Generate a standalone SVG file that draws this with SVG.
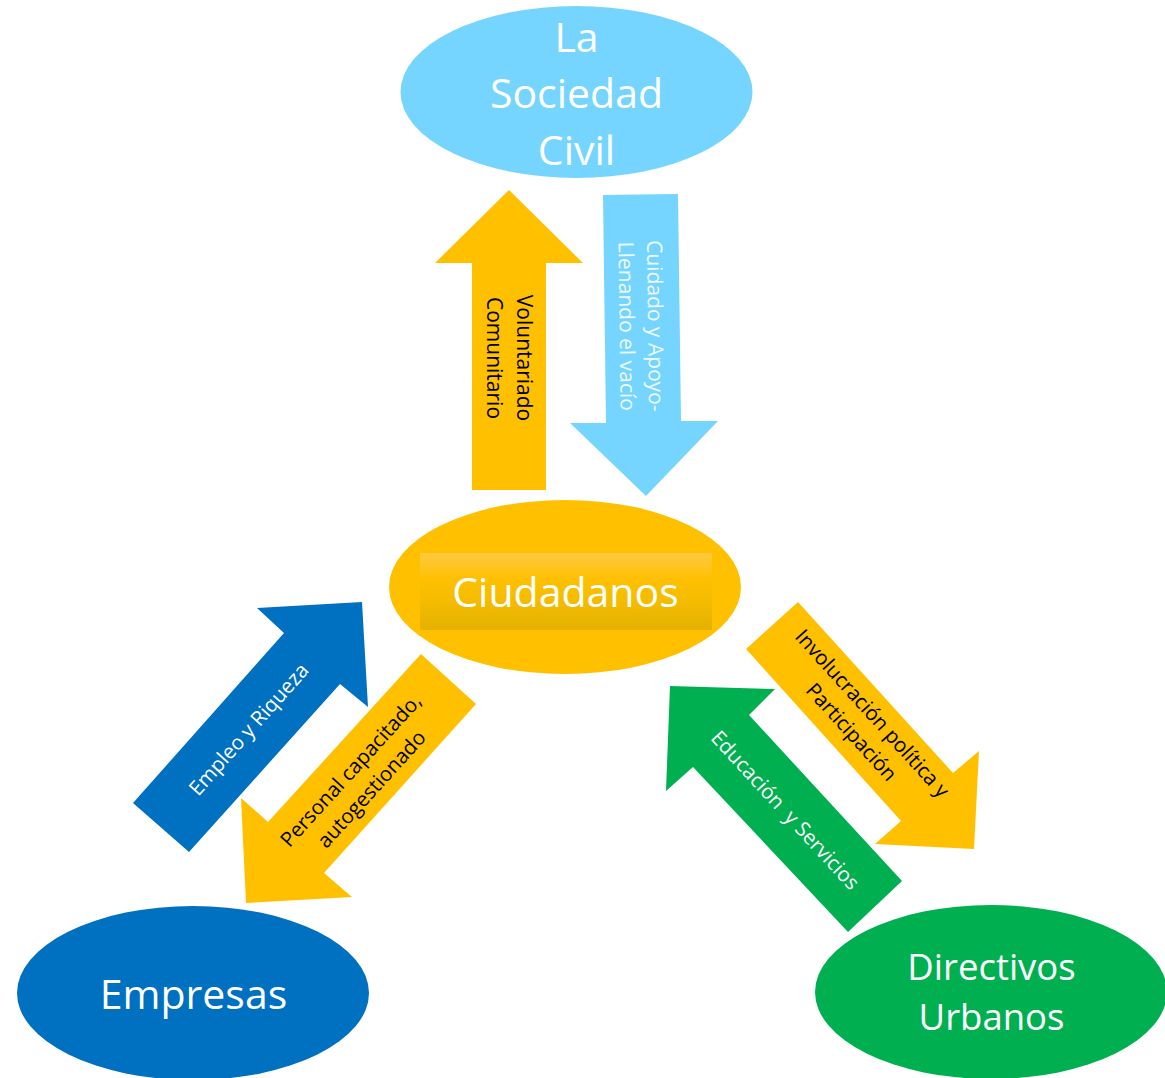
<svg xmlns="http://www.w3.org/2000/svg" width="1165" height="1078" viewBox="0 0 1165 1078">
<defs>
<linearGradient id="gCiud" x1="0" y1="0" x2="0" y2="1">
<stop offset="0" stop-color="#FFC940"/>
<stop offset="0.35" stop-color="#FFC000"/>
<stop offset="0.6" stop-color="#F5BC00"/>
<stop offset="1" stop-color="#E4B200"/>
</linearGradient>
</defs>
<style>
.big{font-family:"Open Sans","Noto Sans",sans-serif;font-size:41px;fill:#FFFFFF;text-anchor:middle}
.mid{font-size:36.5px}
.lbl{font-family:"Open Sans","Noto Sans",sans-serif;font-size:20.5px;text-anchor:middle}
.vert{font-size:21px}
.dark{fill:#000000}
.white{fill:#FFFFFF}
.pale{fill:#EEF9FF}
</style>
<rect width="1165" height="1078" fill="#FFFFFF"/>
<g id="node-sociedad">
<ellipse cx="576.5" cy="92" rx="176" ry="86" fill="#75D5FF"/>
<text class="big" x="576.5" y="52">La</text>
<text class="big" x="576.5" y="108">Sociedad</text>
<text class="big" x="576.5" y="165">Civil</text>
</g>
<g id="node-ciudadanos">
<ellipse cx="565" cy="587" rx="176" ry="87" fill="#FFC000"/>
<rect x="420" y="553" width="292" height="77" fill="url(#gCiud)"/>
<text class="big" x="565.5" y="607">Ciudadanos</text>
</g>
<g id="node-empresas">
<ellipse cx="193" cy="993" rx="176" ry="87" fill="#0070C0"/>
<text class="big" x="193.5" y="1009">Empresas</text>
</g>
<g id="node-directivos">
<ellipse cx="991" cy="992" rx="176" ry="87" fill="#00B050"/>
<text class="big mid" x="991.5" y="980">Directivos</text>
<text class="big mid" x="991.5" y="1030">Urbanos</text>
</g>
<g id="connectors">
<g id="arrow-voluntariado">
<polygon points="472,490 472,263 435,263 509,190 583,263 546,263 546,490" fill="#FFC000"/>
<text class="lbl vert dark" transform="translate(517,358) rotate(90)">Voluntariado<tspan x="0" dy="30">Comunitario</tspan></text>
</g>
<g id="arrow-cuidado">
<polygon points="603,195 678,194 681,421 718,421 646,496 570,423 606,423" fill="#75D5FF"/>
<text class="lbl vert pale" transform="translate(648,326) rotate(89.25)">Cuidado y Apoyo-<tspan x="0" dy="28.5">Llenando el vacío</tspan></text>
</g>
<g id="arrow-empleo">
<polygon points="362,602 368,707 340,684 189,852 133,803 284,633 257,608" fill="#0070C0"/>
<text class="lbl white" transform="translate(254,734) rotate(-48.4)">Empleo y Riqueza</text>
</g>
<g id="arrow-personal">
<polygon points="421,654 476,704 324,873 352,897 246,903 241,798 268,822" fill="#FFC000"/>
<text class="lbl dark" transform="translate(356,775) rotate(-47.7)">Personal capacitado,<tspan x="0" dy="28">autogestionado</tspan></text>
</g>
<g id="arrow-involucracion">
<polygon points="798,602 953,773 979,751 974,849 875,844 901,821 746,649" fill="#FFC000"/>
<text class="lbl dark" transform="translate(867,718) rotate(47.9)">Involucración política y<tspan x="0" dy="28">Participación</tspan></text>
</g>
<g id="arrow-educacion">
<polygon points="670,686 775,689 749,715 902,881 848,932 693,767 666,791" fill="#00B050"/>
<text class="lbl white" xml:space="preserve" transform="translate(780,815) rotate(47.3)">Educación  y Servicios</text>
</g>
</g>
</svg>
